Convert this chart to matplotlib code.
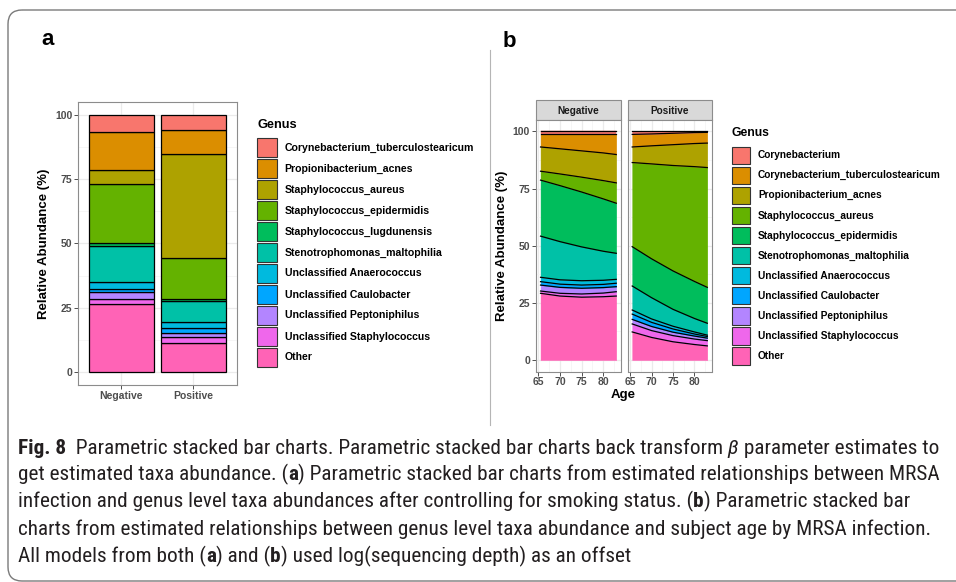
import numpy as np
import matplotlib
matplotlib.use("Agg")
import matplotlib.pyplot as plt
from matplotlib.patches import Rectangle, FancyBboxPatch
from matplotlib.offsetbox import TextArea, HPacker, AnnotationBbox
from matplotlib import font_manager

W, H = 956, 582

# ggplot hue palette, 11 levels
palette = ["#F8766D", "#DB8E00", "#AEA200", "#64B200", "#00BD5C", "#00C1A7",
           "#00BADE", "#00A6FF", "#B385FF", "#EF67EB", "#FF63B6"]

# panel a: relative abundance (%) by MRSA status, legend order (top of bar first)
genus_a = ["Corynebacterium_tuberculostearicum", "Propionibacterium_acnes",
           "Staphylococcus_aureus", "Staphylococcus_epidermidis",
           "Staphylococcus_lugdunensis", "Stenotrophomonas_maltophilia",
           "Unclassified Anaerococcus", "Unclassified Caulobacter",
           "Unclassified Peptoniphilus", "Unclassified Staphylococcus", "Other"]
groups = ["Negative", "Positive"]
negative_a = [6.8, 14.6, 5.5, 22.8, 1.5, 13.9, 2.6, 1.3, 2.8, 1.6, 26.6]
positive_a = [5.9, 9.3, 40.3, 16.1, 0.7, 8.1, 2.4, 1.9, 1.5, 2.3, 11.5]

# panel b: relative abundance (%) against age
genus_b = ["Corynebacterium", "Corynebacterium_tuberculostearicum",
           "Propionibacterium_acnes", "Staphylococcus_aureus",
           "Staphylococcus_epidermidis", "Stenotrophomonas_maltophilia",
           "Unclassified Anaerococcus", "Unclassified Caulobacter",
           "Unclassified Peptoniphilus", "Unclassified Staphylococcus", "Other"]
ages = [65.5, 70, 75, 80, 83]
negative_b = [
    [1.3, 1.3, 1.3, 1.3, 1.3],
    [5.5, 6.3, 7.2, 8.1, 8.8],
    [10.6, 11.0, 11.5, 12.1, 12.4],
    [3.9, 5.1, 6.5, 8.0, 8.9],
    [24.5, 24.5, 24.0, 22.9, 21.9],
    [18.0, 16.7, 14.8, 12.7, 11.4],
    [1.9, 1.9, 1.9, 1.8, 1.7],
    [1.5, 1.4, 1.4, 1.4, 1.5],
    [2.6, 2.6, 2.5, 2.4, 2.2],
    [1.0, 1.2, 1.4, 1.6, 1.9],
    [29.2, 28.0, 27.5, 27.7, 28.0],
]
positive_b = [
    [1.3, 1.1, 0.8, 0.5, 0.4],
    [5.5, 5.2, 5.0, 4.8, 4.7],
    [6.8, 7.9, 9.1, 10.1, 10.7],
    [36.8, 41.5, 46.1, 50.2, 52.4],
    [17.2, 17.0, 16.8, 16.2, 15.7],
    [10.5, 9.3, 7.4, 5.9, 5.2],
    [1.8, 1.5, 1.2, 0.9, 0.6],
    [2.3, 1.8, 1.4, 0.9, 0.7],
    [2.0, 1.8, 1.5, 1.3, 1.1],
    [3.5, 3.0, 2.7, 2.4, 2.3],
    [12.3, 9.9, 8.0, 6.8, 6.2],
]

caption = [
    [("Fig. 8", "bold"), ("  Parametric stacked bar charts. Parametric stacked bar charts back transform", "normal"),
     (" \u03b2", "italic"), (" parameter estimates to", "normal")],
    [("get estimated taxa abundance. (", "normal"), ("a", "bold"),
     (") Parametric stacked bar charts from estimated relationships between MRSA", "normal")],
    [("infection and genus level taxa abundances after controlling for smoking status. (", "normal"),
     ("b", "bold"), (") Parametric stacked bar", "normal")],
    [("charts from estimated relationships between genus level taxa abundance and subject age by MRSA infection.", "normal")],
    [("All models from both (", "normal"), ("a", "bold"), (") and (", "normal"), ("b", "bold"),
     (") used log(sequencing depth) as an offset", "normal")],
]

plt.rcParams["font.family"] = ["Liberation Sans", "DejaVu Sans"]

installed = {f.name for f in font_manager.fontManager.ttflist}
cap_font = next((n for n in ["Liberation Sans Narrow", "Roboto Condensed", "Open Sans Condensed", "Roboto"]
                 if n in installed), "DejaVu Sans")
cap_family = [cap_font, "DejaVu Sans"]


def box(x0, y0, x1, y1):
    return [x0 / W, 1 - y1 / H, (x1 - x0) / W, (y1 - y0) / H]


def theme_bw(ax):
    for s in ax.spines.values():
        s.set_color("#8c8c8c")
        s.set_linewidth(0.8)
    ax.grid(True, which="major", color="#EBEBEB", lw=0.9)
    ax.grid(True, which="minor", color="#F3F3F3", lw=0.5)
    ax.set_axisbelow(True)
    ax.tick_params(which="major", length=2.75, width=0.6, color="#333333",
                   labelsize=7.5, labelcolor="#4D4D4D", pad=1.5)
    ax.tick_params(which="minor", length=0)


fig = plt.figure(figsize=(W / 100, H / 100), dpi=100)

# overlay in pixel coords (y down) for frame, labels, legends, caption
cap = fig.add_axes([0, 0, 1, 1])
cap.set_xlim(0, W)
cap.set_ylim(H, 0)
cap.axis("off")

cap.add_patch(FancyBboxPatch((8, 10), 1100, 571, boxstyle="round,pad=0,rounding_size=14",
                             facecolor="none", edgecolor="#7a7a7a", lw=1.0, clip_on=False))
cap.plot([490, 490], [50, 425], color="#b5b5b5", lw=0.8)
cap.text(48, 45, "a", fontsize=16, fontweight="bold", ha="center", va="baseline")
cap.text(509, 47, "b", fontsize=16, fontweight="bold", ha="center", va="baseline")

# ---- panel a ----
ax_a = fig.add_axes(box(78.3, 101.7, 236.7, 385))
theme_bw(ax_a)
x = [1, 2]
base = np.zeros(2)
for neg, pos, c in reversed(list(zip(negative_a, positive_a, palette))):
    ax_a.bar(x, [neg, pos], 0.9, bottom=base, color=c, edgecolor="black", lw=0.9, zorder=2)
    base = base + np.array([neg, pos])
ax_a.set_xlim(0.4, 2.6)
ax_a.set_ylim(-5, 105)
ax_a.set_yticks([0, 25, 50, 75, 100])
ax_a.set_yticks([12.5, 37.5, 62.5, 87.5], minor=True)
ax_a.set_xticks(x, groups)
for lab in ax_a.get_xticklabels() + ax_a.get_yticklabels():
    lab.set_fontweight("bold")
cap.text(44, 244, "Relative Abundance (%)", rotation=90, fontsize=9.5, fontweight="bold",
         ha="center", va="center")


def draw_legend(x0, y_title, y0, step, bw, bh, names, fs, tfs):
    cap.text(x0, y_title, "Genus", fontsize=tfs, fontweight="bold", va="center")
    for i, (n, c) in enumerate(zip(names, palette)):
        yc = y0 + i * step
        cap.add_patch(Rectangle((x0, yc - bh / 2), bw, bh, facecolor=c, edgecolor="#333333", lw=0.8))
        cap.text(x0 + bw + 8, yc, n, fontsize=fs, fontweight="bold", va="center")


draw_legend(257.3, 125, 147.5, 21, 19.4, 18.3, genus_a, 7.6, 9.2)

# ---- panel b ----
panels = [("Negative", negative_b, 536, 621), ("Positive", positive_b, 627.7, 712)]
for i, (name, vals, x0, x1) in enumerate(panels):
    ax = fig.add_axes(box(x0, 120, x1, 371.5))
    theme_bw(ax)
    arr = np.array(vals)
    base = np.zeros(len(ages))
    for v, c in zip(arr[::-1], palette[::-1]):
        top = base + v
        ax.fill_between(ages, base, top, facecolor=c, edgecolor=c, lw=0.3, zorder=2)
        ax.plot(ages, top, color="black", lw=0.9, zorder=3)
        base = top
    ax.set_xlim(64.45, 84.1)
    ax.set_ylim(-5, 105)
    ax.set_xticks([65, 70, 75, 80])
    ax.set_xticks([67.5, 72.5, 77.5, 82.5], minor=True)
    ax.set_yticks([0, 25, 50, 75, 100])
    ax.set_yticks([12.5, 37.5, 62.5, 87.5], minor=True)
    if i > 0:
        ax.tick_params(left=False, labelleft=False)
    for lab in ax.get_xticklabels() + ax.get_yticklabels():
        lab.set_fontweight("bold")
    # facet strip
    cap.add_patch(Rectangle((x0, 100), x1 - x0, 20, facecolor="#D9D9D9", edgecolor="#8c8c8c", lw=0.8))
    cap.text((x0 + x1) / 2, 110.5, name, fontsize=7.2, fontweight="bold", ha="center", va="center",
             color="#1A1A1A")

cap.text(502, 246, "Relative Abundance (%)", rotation=90, fontsize=9.5, fontweight="bold",
         ha="center", va="center")
cap.text(623.5, 395, "Age", fontsize=9.5, fontweight="bold", ha="center", va="center")

draw_legend(731.7, 133.3, 155.3, 20.07, 18.3, 17.3, genus_b, 7.3, 8.7)

# ---- caption ----
renderer = fig.canvas.get_renderer()
line1 = "".join(s for s, _ in caption[0])
probe = cap.text(0, 0, line1, fontsize=10, family=cap_family)
w1 = probe.get_window_extent(renderer).width
probe.remove()
cap_size = 10 * 914 / w1

baselines = [457.5, 484.8, 512, 539.3, 566.6]
for yb, parts in zip(baselines, caption):
    areas = []
    for s, style in parts:
        props = dict(fontsize=cap_size, color="#231F20", family=cap_family,
                     fontweight="bold" if style == "bold" else "normal",
                     fontstyle="italic" if style == "italic" else "normal")
        areas.append(TextArea(s, textprops=props))
    pack = HPacker(children=areas, align="baseline", pad=0, sep=0)
    ab = AnnotationBbox(pack, (18, yb), xycoords="data", box_alignment=(0, 0),
                        frameon=False, pad=0, annotation_clip=False)
    cap.add_artist(ab)
    desc = -pack.get_bbox(renderer).y0
    ab.xy = (18, yb + desc)

fig.savefig("out.png", dpi=100)
